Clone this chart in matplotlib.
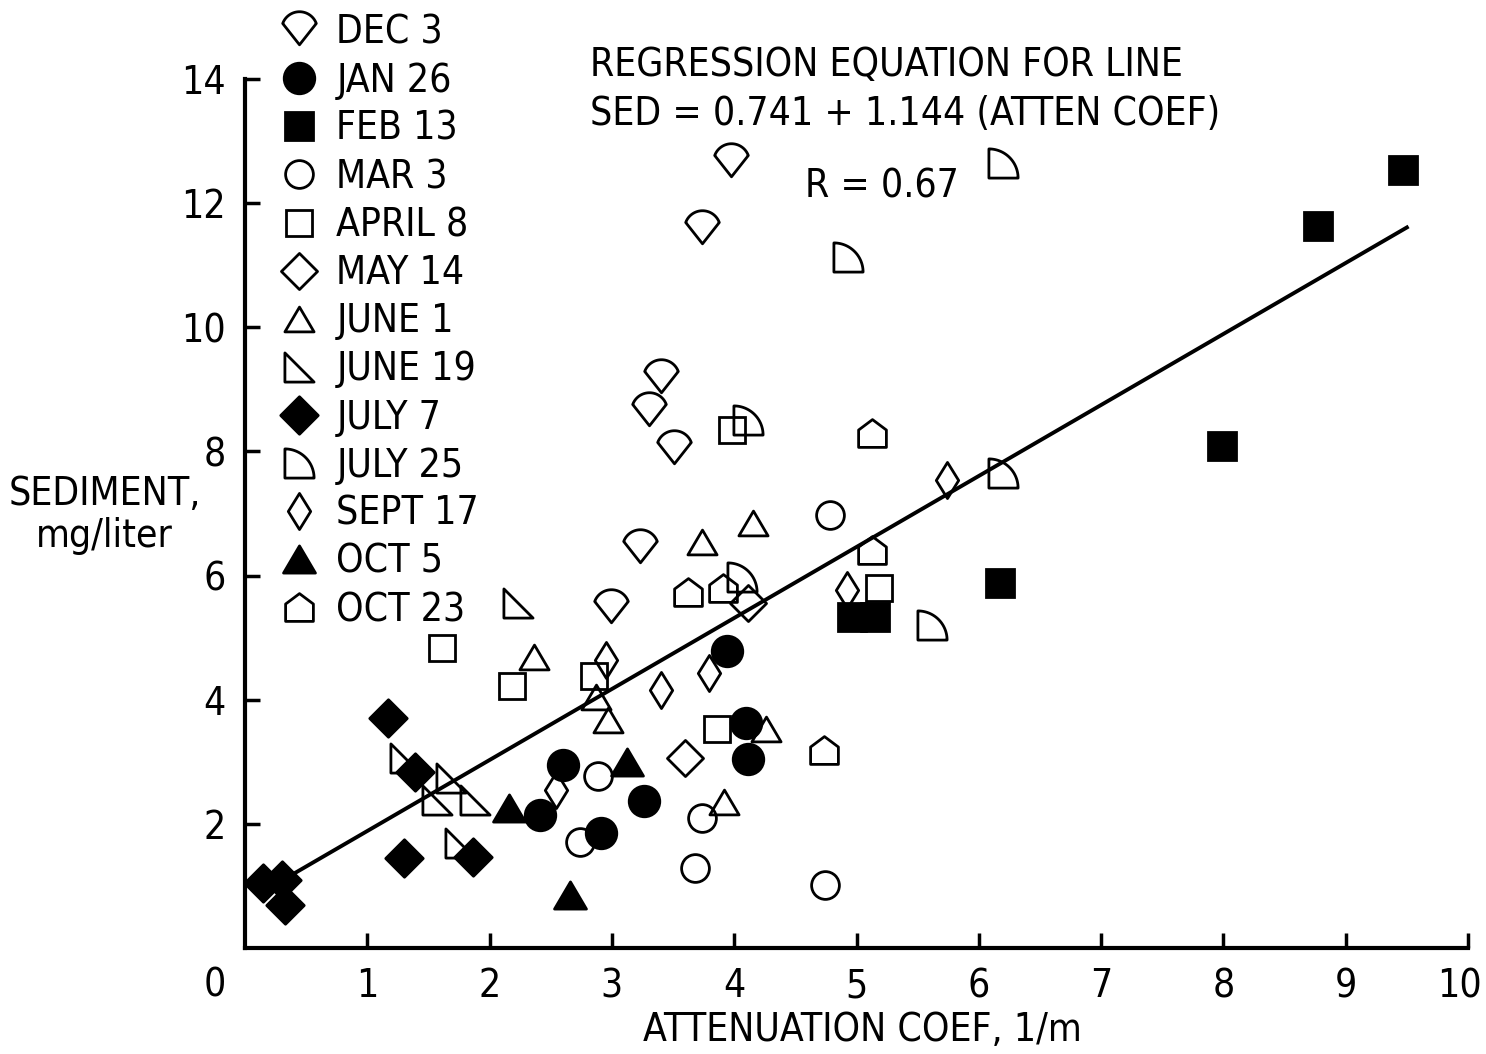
import matplotlib
matplotlib.use('Agg')
import matplotlib.pyplot as plt
import numpy as np
from matplotlib.path import Path
from matplotlib.transforms import ScaledTranslation

plt.rcParams['font.family'] = ['DejaVu Sans']
plt.rcParams['font.stretch'] = 'condensed'

# values (attenuation coef 1/m, sediment mg/liter)
dec3_x = [3.97, 3.74, 3.40, 3.30, 3.51, 3.23, 2.99]
dec3_y = [12.67, 11.58, 9.18, 8.65, 8.04, 6.44, 5.48]
jan26_x = [3.94, 4.10, 4.11, 3.26, 2.91, 2.60, 2.41]
jan26_y = [4.78, 3.62, 3.04, 2.37, 1.85, 2.95, 2.14]
feb13_x = [9.47, 8.77, 7.99, 6.17, 4.96, 5.15]
feb13_y = [12.53, 11.63, 8.08, 5.88, 5.33, 5.33]
mar3_x = [4.78, 2.89, 3.74, 2.74, 3.68, 4.74]
mar3_y = [6.97, 2.77, 2.09, 1.71, 1.29, 1.01]
apr8_x = [3.98, 5.18, 1.61, 2.18, 2.85, 3.86]
apr8_y = [8.34, 5.80, 4.83, 4.22, 4.38, 3.53]
may14_x = [3.60, 4.11]
may14_y = [3.06, 5.56]
jun1_x = [4.15, 3.74, 2.36, 2.87, 2.97, 4.26, 3.92]
jun1_y = [6.84, 6.54, 4.69, 4.04, 3.67, 3.53, 2.35]
jun19_x = [2.23, 1.31, 1.68, 1.57, 1.88, 1.76]
jun19_y = [5.56, 3.06, 2.74, 2.38, 2.38, 1.69]
jul7_x = [1.17, 1.39, 1.30, 1.86, 0.15, 0.30, 0.33]
jul7_y = [3.70, 2.83, 1.45, 1.47, 1.05, 1.10, 0.70]
jul25_x = [6.20, 4.93, 4.11, 6.20, 4.06, 5.62]
jul25_y = [12.64, 11.13, 8.50, 7.66, 5.97, 5.20]
sep17_x = [5.74, 4.92, 2.95, 3.40, 3.79, 2.54]
sep17_y = [7.54, 5.76, 4.64, 4.15, 4.43, 2.54]
oct5_x = [2.16, 3.12, 2.66]
oct5_y = [2.25, 3.00, 0.85]
oct23_x = [5.13, 5.13, 3.62, 3.91, 4.73]
oct23_y = [8.29, 6.41, 5.73, 5.80, 3.19]

labels = ['DEC 3', 'JAN 26', 'FEB 13', 'MAR 3', 'APRIL 8', 'MAY 14', 'JUNE 1',
          'JUNE 19', 'JULY 7', 'JULY 25', 'SEPT 17', 'OCT 5', 'OCT 23']

intercept = 0.741
slope = 1.144
line_x = [0.3, 9.5]


def poly(verts):
    verts = list(verts) + [verts[0]]
    return Path(verts, closed=True)


t = np.radians(np.linspace(160, 20, 30))
shield = poly([(0, -0.8)] + list(zip(np.cos(t), np.sin(t) + 0.05)))
t = np.radians(np.linspace(90, 0, 30))
quarter = poly([(-1, -1)] + list(zip(2 * np.cos(t) - 1, 2 * np.sin(t) - 1)))
right_tri = poly([(-1, 1), (1, -1), (-1, -1)])
tri = poly([(0, 0.85), (1, -0.85), (-1, -0.85)])
diamond = poly([(0, 1), (1, 0), (0, -1), (-1, 0)])
thin_diamond = poly([(0, 1), (0.62, 0), (0, -1), (-0.62, 0)])
house = poly([(-1, -1), (1, -1), (1, 0.25), (0, 1), (-1, 0.25)])

series = [
    (dec3_x, dec3_y, shield, False, 27),
    (jan26_x, jan26_y, 'o', True, 22),
    (feb13_x, feb13_y, 's', True, 20),
    (mar3_x, mar3_y, 'o', False, 20),
    (apr8_x, apr8_y, 's', False, 19),
    (may14_x, may14_y, diamond, False, 26),
    (jun1_x, jun1_y, tri, False, 21),
    (jun19_x, jun19_y, right_tri, False, 21),
    (jul7_x, jul7_y, diamond, True, 27),
    (jul25_x, jul25_y, quarter, False, 21),
    (sep17_x, sep17_y, thin_diamond, False, 26),
    (oct5_x, oct5_y, tri, True, 23),
    (oct23_x, oct23_y, house, False, 20),
]

fs = 28

fig = plt.figure(figsize=(14.86, 10.54), dpi=100)
ax = fig.add_axes([0.1649, 0.1006, 0.823, 0.8244])

lx = np.array(line_x)
ax.plot(lx, intercept + slope * lx, color='black', lw=2.8, zorder=2)

for (x, y, m, filled, ms), lab in zip(series, labels):
    ax.plot(x, y, ls='none', marker=m, ms=ms, mew=2,
            mec='black', mfc='black' if filled else 'none', label=lab, zorder=3)

ax.set_xlim(0, 10)
ax.set_ylim(0, 14)
ax.set_xticks(range(1, 11))
ax.set_yticks(range(2, 15, 2))
ax.tick_params(direction='in', length=11, width=2.5, labelsize=fs, pad=14)
for s in ['top', 'right']:
    ax.spines[s].set_visible(False)
for s in ['left', 'bottom']:
    ax.spines[s].set_linewidth(3)

# the "10" sits a little left of its tick
last = ax.get_xticklabels()[-1]
last.set_transform(last.get_transform() + ScaledTranslation(-0.09, 0, fig.dpi_scale_trans))

ax.text(-0.25, -0.6, '0', ha='center', va='center', fontsize=fs, clip_on=False)

ax.set_xlabel('ATTENUATION COEF, 1/m', fontsize=fs, va='center')
ax.xaxis.set_label_coords(0.505, -0.094)
ax.set_ylabel('SEDIMENT,\nmg/liter', fontsize=fs, rotation=0, ha='center',
              va='center', multialignment='center', linespacing=1.15)
ax.yaxis.set_label_coords(-0.115, 0.498)

ax.text(2.82, 14.23, 'REGRESSION EQUATION FOR LINE', fontsize=fs, va='center')
ax.text(2.82, 13.43, 'SED = 0.741 + 1.144 (ATTEN COEF)', fontsize=fs, va='center')
ax.text(4.58, 12.27, 'R = 0.67', fontsize=fs, va='center')

ax.legend(loc='upper left', bbox_to_anchor=(280 / 1486, 0.987),
          bbox_transform=fig.transFigure, frameon=False, fontsize=fs,
          handlelength=1.0, handletextpad=0.45, labelspacing=0.26,
          borderpad=0, borderaxespad=0, numpoints=1)

fig.savefig('out.png', dpi=100)
